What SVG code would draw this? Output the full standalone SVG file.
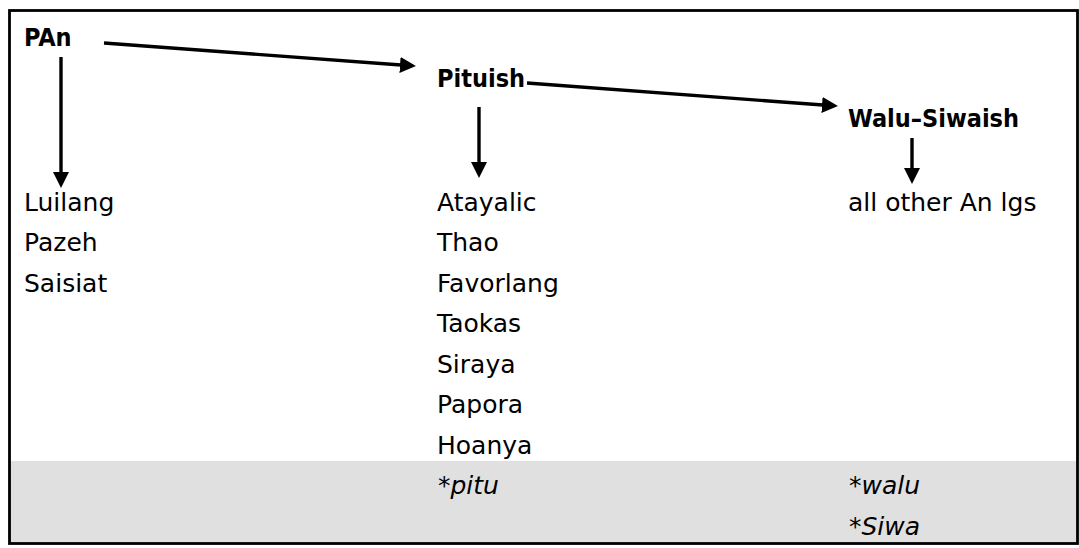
<svg xmlns="http://www.w3.org/2000/svg" width="1079" height="548" viewBox="0 0 1079 548">
<style>
text{font-family:"DejaVu Sans","Liberation Sans",sans-serif;font-size:25px;fill:#000}
.b{font-family:"DejaVu Sans Condensed","DejaVu Sans",sans-serif;font-weight:bold;font-size:25px}
.i{font-style:italic}
.c{stroke:#000;stroke-width:3.4;fill:none}
</style>
<defs>
<marker id="ah" markerUnits="userSpaceOnUse" markerWidth="17" markerHeight="17" refX="1" refY="8" orient="auto" viewBox="0 0 17 16">
<path d="M0,0 L16,8 L0,16 Z" fill="#000"/>
</marker>
</defs>
<rect x="0" y="0" width="1079" height="548" fill="#fff"/>
<rect id="band" x="9.5" y="461" width="1068" height="82.5" fill="#e0e0e0"/>
<rect id="frame" x="9.5" y="10.5" width="1068" height="533" fill="none" stroke="#000" stroke-width="2.8"/>
<g id="connectors">
<line class="c" x1="104" y1="43" x2="401" y2="65" marker-end="url(#ah)"/>
<line class="c" x1="61" y1="57" x2="61" y2="173" marker-end="url(#ah)"/>
<line class="c" x1="527" y1="83" x2="823" y2="105" marker-end="url(#ah)"/>
<line class="c" x1="479" y1="107" x2="479" y2="163" marker-end="url(#ah)"/>
<line class="c" x1="912" y1="138" x2="912" y2="169" marker-end="url(#ah)"/>
</g>
<g id="PAn"><text class="b" x="24" y="46">PAn</text></g>
<g id="Pituish"><text class="b" x="437" y="87">Pituish</text></g>
<g id="WaluSiwaish"><text class="b" x="848" y="127">Walu–Siwaish</text></g>
<g id="col1">
<text x="24" y="211">Luilang</text>
<text x="24" y="251">Pazeh</text>
<text x="24" y="292">Saisiat</text>
</g>
<g id="col2">
<text x="437" y="211">Atayalic</text>
<text x="437" y="251">Thao</text>
<text x="437" y="292">Favorlang</text>
<text x="437" y="332">Taokas</text>
<text x="437" y="373">Siraya</text>
<text x="437" y="413">Papora</text>
<text x="437" y="454">Hoanya</text>
<text class="i" x="438" y="494">*pitu</text>
</g>
<g id="col3">
<text x="848" y="211">all other An lgs</text>
<text class="i" x="849" y="494">*walu</text>
<text class="i" x="849" y="535">*Siwa</text>
</g>
</svg>
